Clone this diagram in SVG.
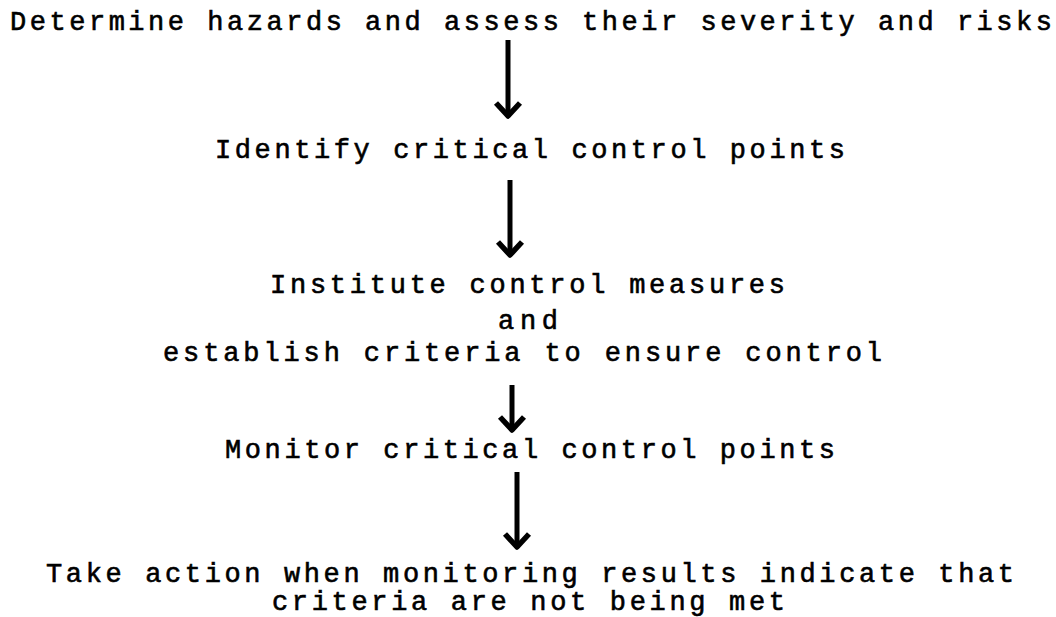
<svg xmlns="http://www.w3.org/2000/svg" width="1056" height="617" viewBox="0 0 1056 617">
  <style>
    .t { font-family: "Liberation Mono", "Courier New", monospace; font-size: 27px; fill: #000; stroke: #000; stroke-width: 0.6px; }
    .c { stroke: #000; stroke-width: 5; fill: none; }
  </style>
  <defs>
    <marker id="ah" viewBox="-18 -16 22 32" refX="0" refY="0" markerWidth="22" markerHeight="32" markerUnits="userSpaceOnUse" orient="auto">
      <path d="M-14,-12 L-1,0 L-14,12" fill="none" stroke="#000" stroke-width="5.5" stroke-linejoin="round"/>
    </marker>
  </defs>
  <rect width="1056" height="617" fill="#fff"/>
  <g id="n1"><text class="t" x="10" y="30" textLength="1042" lengthAdjust="spacing">Determine hazards and assess their severity and risks</text></g>
  <g id="n2"><text class="t" x="215" y="158" textLength="630" lengthAdjust="spacing">Identify critical control points</text></g>
  <g id="n3">
    <text class="t" x="270" y="293" textLength="515" lengthAdjust="spacing">Institute control measures</text>
    <text class="t" x="498" y="329" textLength="60" lengthAdjust="spacing">and</text>
    <text class="t" x="163" y="361" textLength="719" lengthAdjust="spacing">establish criteria to ensure control</text>
  </g>
  <g id="n4"><text class="t" x="225" y="458" textLength="610" lengthAdjust="spacing">Monitor critical control points</text></g>
  <g id="n5">
    <text class="t" x="46" y="582" textLength="968" lengthAdjust="spacing">Take action when monitoring results indicate that</text>
    <text class="t" x="272" y="610" textLength="513" lengthAdjust="spacing">criteria are not being met</text>
  </g>
  <g id="connectors">
    <line class="c" x1="508" y1="40" x2="508" y2="117" marker-end="url(#ah)"/>
    <line class="c" x1="510" y1="180" x2="510" y2="256" marker-end="url(#ah)"/>
    <line class="c" x1="512" y1="385" x2="512" y2="431" marker-end="url(#ah)"/>
    <line class="c" x1="517" y1="472" x2="517" y2="548" marker-end="url(#ah)"/>
  </g>
</svg>
